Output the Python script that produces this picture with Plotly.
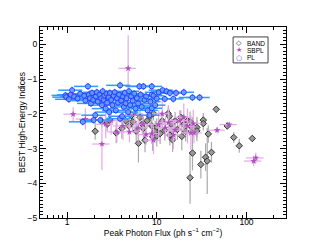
import plotly.graph_objects as go

# PL series
pl_flux = [0.96, 0.98, 1.14, 1.1, 1.05, 1.2, 1.31, 1.4, 1.5, 1.55, 1.6, 1.71, 1.75, 1.8, 1.85, 1.9, 1.98, 1.95,
           2.06, 2.1, 2.15, 2.2, 2.3, 2.35, 2.4, 2.45, 2.5, 2.55, 2.6, 2.7, 2.75, 2.8, 2.9, 2.95,
           3.0, 3.1, 3.2, 3.3, 3.4, 3.5, 3.6, 3.7, 3.8, 3.9, 3.9, 4.0, 4.1, 4.2, 4.3, 4.4, 4.5, 4.6, 4.8, 4.9, 5.05,
           5.2, 5.4, 5.6, 5.8, 6.0, 6.2, 6.4, 6.6, 6.8, 7.1, 7.3, 7.6, 7.9, 8.3, 8.5, 8.8, 8.8, 8.8, 9.2, 9.6,
           10.0, 10.5, 11.6, 12.3, 12.8, 14.0, 15.3, 16.4, 20.0, 25.0, 30.0]
pl_index = [-1.47, -1.52, -1.32, -1.45, -1.58, -1.5, -1.56, -1.42, -2.23, -1.48, -1.62, -1.21, -1.45, -1.55, -1.7, -1.4, -2.18, -1.6,
            -2.04, -1.5, -1.38, -1.65, -1.45, -2.18, -1.55, -1.75, -1.35, -1.6, -1.48, -1.85, -1.42, -1.68, -1.52, -1.95,
            -1.4, -1.6, -1.75, -1.48, -1.38, -1.9, -1.55, -1.68, -1.45, -1.18, -2.14, -1.62, -2.07, -1.5, -1.8, -1.4, -1.7, -1.55, -1.95, -1.35, -1.75,
            -1.5, -1.62, -1.42, -1.85, -1.55, -1.7, -1.21, -1.45, -1.8, -1.21, -1.6, -1.5, -1.9, -2.04, -1.65, -1.21, -1.84, -1.45, -1.48, -1.75,
            -1.56, -1.38, -1.32, -1.57, -1.35, -1.4, -1.57, -1.4, -1.38, -1.53, -1.53]

# BAND series
band_flux = [2.06, 2.45, 2.8, 3.0, 3.53, 4.08, 4.5, 4.9, 5.2, 5.4, 5.9, 6.25, 6.5, 6.9, 7.1, 7.4, 7.8, 8.4, 8.8, 9.0,
             9.2, 9.6, 10.0, 10.0, 10.9, 11.5, 12.3, 13.4, 13.8, 14.0, 14.5, 15.0, 16.0, 17.0, 18.5, 19.0, 20.0, 21.0, 22.0,
             23.5, 23.5, 25.0, 25.0, 28.0, 28.0, 31.0, 33.0, 33.0, 35.0, 36.5, 37.5, 40.7, 46.0, 61.0, 72.0, 83.0, 116.0]
band_index = [-2.5, -2.23, -2.3, -2.18, -2.55, -2.42, -2.2, -2.35, -2.05, -2.23, -2.5, -2.85, -2.1, -2.3, -2.42, -2.76, -2.2, -2.07, -2.35, -2.66,
              -1.99, -2.5, -2.64, -2.38, -2.57, -2.2, -2.47, -1.99, -2.07, -2.61, -2.3, -2.75, -2.2, -2.45, -2.1, -2.65, -2.3, -2.5, -2.2,
              -2.23, -3.84, -3.13, -2.4, -2.39, -2.49, -3.46, -2.18, -2.28, -3.25, -3.36, -2.58, -3.11, -1.87, -2.35, -2.68, -2.92, -2.71]
band_err = [0.25, 0.15, 0.2, 0.15, 0.3, 0.3, 0.2, 0.25, 0.2, 0.3, 0.3, 0.55, 0.2, 0.25, 0.3, 0.35, 0.2, 0.25, 0.25, 0.4,
            0.2, 0.3, 0.3, 0.25, 0.3, 0.25, 0.3, 0.2, 0.2, 0.3, 0.25, 0.35, 0.25, 0.3, 0.2, 0.4, 0.3, 0.3, 0.3,
            0.3, 0.75, 0.5, 0.3, 0.3, 0.3, 0.4, 0.2, 0.2, 0.4, 0.95, 0.25, 0.3, 0.1, 0.1, 0.15, 0.2, 0.1]

# SBPL series
sbpl_flux = [1.17, 1.6, 2.45, 2.7, 3.1, 3.6, 4.2, 4.8, 4.96, 5.7, 6.2, 7.0, 7.6, 8.8, 9.2, 10.5, 11.5, 12.5, 13.5,
             15.3, 16.0, 18.0, 20.0, 22.0, 24.0, 25.5, 26.0, 47.0, 64.0, 120.0, 127.0]
sbpl_index = [-2.01, -2.15, -2.87, -2.3, -2.2, -2.52, -2.35, -0.69, -2.52, -1.99, -2.4, -2.3, -2.6, -2.57, -2.76, -2.3, -2.0, -2.4, -2.25,
              -2.61, -2.47, -2.2, -2.1, -2.35, -2.55, -2.28, -2.55, -2.47, -2.31, -3.36, -3.27]
sbpl_err_plus = [0.2, 0.3, 0.5, 0.4, 0.4, 0.3, 0.4, 0.95, 0.3, 0.5, 0.4, 0.3, 0.3, 0.3, 0.4, 0.4, 0.4, 0.3, 0.5,
                 0.4, 0.3, 0.3, 0.4, 0.5, 0.5, 0.4, 0.3, 0.1, 0.05, 0.15, 0.15]
sbpl_err_minus = [0.2, 0.3, 0.75, 0.4, 0.4, 0.3, 0.4, 1.5, 0.3, 0.5, 0.4, 0.3, 0.3, 0.3, 0.4, 0.4, 0.4, 0.3, 0.5,
                  0.4, 0.3, 0.3, 0.4, 0.5, 0.5, 0.4, 0.3, 0.1, 0.05, 0.15, 0.15]

legend_names = ["BAND", "SBPL", "PL"]
legend_symbols = ["◇", "★", "○"]
legend_colors = ["#222222", "#b050c0", "#2b3cff"]

FONT = "Liberation Sans, Arial"

fig = go.Figure()

fig.add_trace(go.Scatter(
    x=band_flux, y=band_index, mode="markers", name="BAND",
    marker=dict(symbol="diamond", size=5, color="#999999", line=dict(color="#333333", width=1)),
    error_y=dict(type="data", array=band_err, color="#aaaaaa", thickness=1.2, width=0),
    error_x=dict(type="percent", value=6, color="#aaaaaa", thickness=1, width=0),
))
fig.add_trace(go.Scatter(
    x=sbpl_flux, y=sbpl_index, mode="markers", name="SBPL",
    marker=dict(symbol="star", size=5, color="#b050c0"),
    error_y=dict(type="data", array=sbpl_err_plus, arrayminus=sbpl_err_minus, color="#e6a6ea", thickness=1.2, width=0),
    error_x=dict(type="percent", value=22, color="#e6a6ea", thickness=1.2, width=0),
))
fig.add_trace(go.Scatter(
    x=pl_flux, y=pl_index, mode="markers", name="PL",
    marker=dict(symbol="circle", size=5, color="rgba(120,160,255,0.6)", line=dict(color="#2b3cff", width=1)),
    error_y=dict(type="constant", value=0.1, color="#3399ff", thickness=1.5, width=0),
    error_x=dict(type="percent", value=30, color="#3399ff", thickness=1.5, width=0),
))

axis_common = dict(
    showline=True, linecolor="black", linewidth=1, mirror="allticks",
    ticks="inside", ticklen=6, tickcolor="black", showgrid=False, zeroline=False,
    tickfont=dict(family=FONT, size=8.5, color="black"), automargin=False,
)

fig.update_xaxes(
    type="log", range=[-0.301, 2.44], tickvals=[1, 10, 100], ticktext=["1", "10", "100"],
    ticklabelstandoff=-4,
    minor=dict(ticks="inside", ticklen=3, tickcolor="black",
               tickvals=[0.6, 0.7, 0.8, 0.9, 2, 3, 4, 5, 6, 7, 8, 9, 20, 30, 40, 50, 60, 70, 80, 90, 200]),
    title=dict(text="Peak Photon Flux (ph s<sup>−1</sup> cm<sup>−2</sup>)", font=dict(family=FONT, size=8.5, color="black"), standoff=0),
    **axis_common,
)
fig.update_yaxes(
    range=[-5, 0.5], dtick=1, tick0=0,
    minor=dict(ticks="inside", ticklen=3, tickcolor="black", dtick=0.1),
    title=dict(text="BEST High-Energy Indices", font=dict(family=FONT, size=8.5, color="black"), standoff=0),
    **axis_common,
)

# custom compact legend box
fig.add_shape(type="rect", xref="paper", yref="paper", x0=0.785, x1=0.927, y0=0.812, y1=0.948,
              line=dict(color="#444444", width=1), fillcolor="white", layer="above")
row_y = [0.914, 0.877, 0.840]
for name, sym, col, yy in zip(legend_names, legend_symbols, legend_colors, row_y):
    fig.add_annotation(x=0.809, y=yy, xref="paper", yref="paper", text=sym, showarrow=False,
                       font=dict(family="DejaVu Sans", size=7, color=col), xanchor="center", yanchor="middle")
    fig.add_annotation(x=0.832, y=yy, xref="paper", yref="paper", text=name, showarrow=False,
                       font=dict(family=FONT, size=6.5, color="black"), xanchor="left", yanchor="middle")

fig.update_layout(
    width=311, height=249,
    margin=dict(l=40, r=25, t=27, b=31),
    paper_bgcolor="white", plot_bgcolor="white",
    showlegend=False,
)

fig.write_html("out.html", config={"displayModeBar": False},
               post_script="document.body.style.margin='0';document.body.style.padding='0';")
